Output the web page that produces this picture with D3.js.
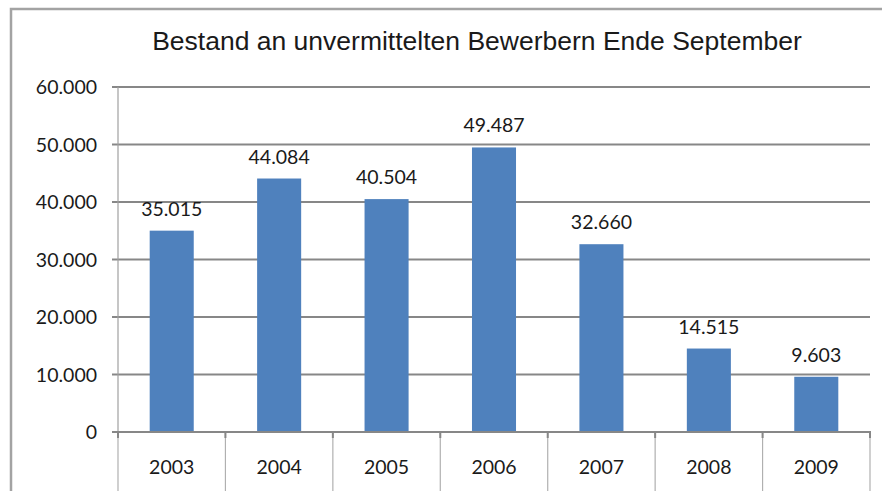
<!DOCTYPE html>
<html>
<head>
<meta charset="utf-8">
<script src="https://cdn.jsdelivr.net/npm/d3@7"></script>
<style>
  body { margin: 0; background: #fff; }
  text { fill: #1a1a1a; }
</style>
</head>
<body>
<div id="chart"></div>
<script>
// data
var years = ['2003', '2004', '2005', '2006', '2007', '2008', '2009'];
var bewerber = [35015, 44084, 40504, 49487, 32660, 14515, 9603];
var yTicks = [0, 10000, 20000, 30000, 40000, 50000, 60000];
var title = 'Bestand an unvermittelten Bewerbern Ende September';

var width = 882, height = 491;
var plot = {left: 118, right: 870, top: 87, bottom: 432};

var fmt = function(v) {
    // German thousands separator
    return d3.format(',')(v).replace(/,/g, '.');
};

var svg = d3.select('#chart').append('svg')
    .attr('width', width)
    .attr('height', height);

// outer chart frame (only top and left edges visible)
svg.append('path')
    .attr('d', 'M11,' + height + 'L11,9L' + width + ',9')
    .attr('fill', 'none')
    .attr('stroke', '#a3a3a3')
    .attr('stroke-width', 2.5);

svg.append('text')
    .attr('x', 477)
    .attr('y', 50)
    .attr('text-anchor', 'middle')
    .style('font-family', '"Liberation Sans", Arial, sans-serif')
    .style('font-size', '26.5px')
    .text(title);

var x = d3.scaleBand()
    .domain(years)
    .range([plot.left, plot.right])
    .paddingInner(0.59)
    .paddingOuter(0.295);

var xCat = d3.scaleBand()
    .domain(years)
    .range([plot.left, plot.right]);

var y = d3.scaleLinear()
    .domain([0, 60000])
    .range([plot.bottom, plot.top]);

// horizontal gridlines + tick marks
svg.append('g').selectAll('line')
    .data(yTicks.filter(function(t) { return t > 0; }))
    .enter().append('line')
    .attr('x1', plot.left - 6)
    .attr('x2', plot.right)
    .attr('y1', function(d) { return y(d); })
    .attr('y2', function(d) { return y(d); })
    .attr('stroke', '#878787')
    .attr('stroke-width', 2.2);

// y axis line
svg.append('line')
    .attr('x1', plot.left).attr('x2', plot.left)
    .attr('y1', plot.top).attr('y2', plot.bottom)
    .attr('stroke', '#a0a0a0')
    .attr('stroke-width', 1.2);

svg.append('g').selectAll('text')
    .data(yTicks)
    .enter().append('text')
    .attr('x', 97)
    .attr('y', function(d) { return y(d); })
    .attr('dy', '0.36em')
    .attr('text-anchor', 'end')
    .style('font-family', 'Lato, "Open Sans", sans-serif')
    .style('font-size', '19.5px')
    .text(function(d) { return fmt(d); });

// category dividers running down to the bottom edge
var bounds = years.map(function(c) { return xCat(c); }).concat([plot.right]);
svg.append('g').selectAll('line')
    .data(bounds)
    .enter().append('line')
    .attr('x1', function(d) { return d; })
    .attr('x2', function(d) { return d; })
    .attr('y1', plot.bottom)
    .attr('y2', height)
    .attr('stroke', '#b0b0b0')
    .attr('stroke-width', 1.2);

// short ticks under the axis
svg.append('g').selectAll('line')
    .data(bounds)
    .enter().append('line')
    .attr('x1', function(d) { return d; })
    .attr('x2', function(d) { return d; })
    .attr('y1', plot.bottom)
    .attr('y2', plot.bottom + 6)
    .attr('stroke', '#878787')
    .attr('stroke-width', 2);

// bars
svg.append('g').selectAll('rect')
    .data(bewerber)
    .enter().append('rect')
    .attr('x', function(d, i) { return x(years[i]); })
    .attr('width', x.bandwidth())
    .attr('y', function(d) { return y(d); })
    .attr('height', function(d) { return y(0) - y(d); })
    .attr('fill', '#4f81bd');

// zero axis line
svg.append('line')
    .attr('x1', plot.left - 6).attr('x2', plot.right + 1)
    .attr('y1', plot.bottom).attr('y2', plot.bottom)
    .attr('stroke', '#878787')
    .attr('stroke-width', 2.2);

// value labels
svg.append('g').selectAll('text')
    .data(bewerber)
    .enter().append('text')
    .attr('x', function(d, i) { return x(years[i]) + x.bandwidth() / 2; })
    .attr('y', function(d) { return y(d) - 15; })
    .attr('text-anchor', 'middle')
    .style('font-family', 'Lato, "Open Sans", sans-serif')
    .style('font-size', '19.5px')
    .text(function(d) { return fmt(d); });

// category labels
svg.append('g').selectAll('text')
    .data(years)
    .enter().append('text')
    .attr('x', function(d) { return xCat(d) + xCat.bandwidth() / 2; })
    .attr('y', 474)
    .attr('text-anchor', 'middle')
    .style('font-family', 'Lato, "Open Sans", sans-serif')
    .style('font-size', '19.5px')
    .text(function(d) { return d; });
</script>
</body>
</html>
